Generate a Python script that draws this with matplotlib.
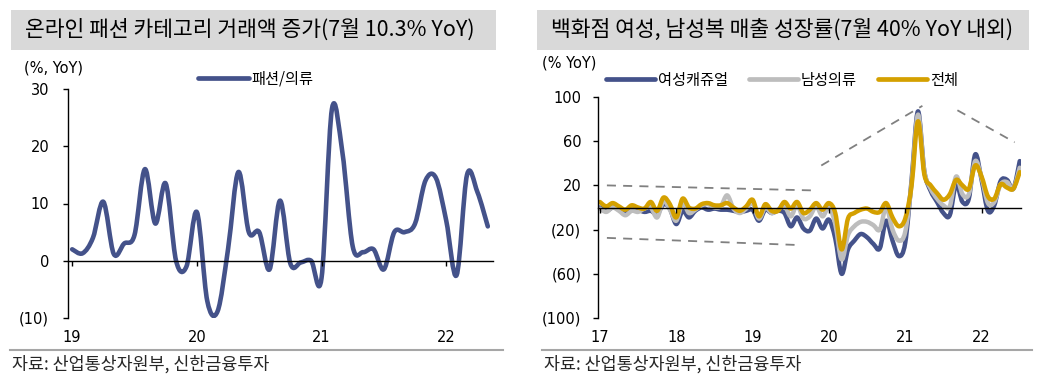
import matplotlib
matplotlib.use('Agg')
import matplotlib.pyplot as plt
import numpy as np
from matplotlib.path import Path
from matplotlib.patches import PathPatch, Rectangle
from matplotlib.lines import Line2D
from matplotlib.ticker import FuncFormatter

plt.rcParams['font.family'] = ['DejaVu Sans', 'Noto Sans CJK KR']
KR = ['Noto Sans CJK KR', 'DejaVu Sans']

# 왼쪽: 온라인 패션/의류 거래액 증가율 (2019.01~, 월별 %YoY)
fashion_yoy = [2, 1.3, 4, 10.3, 1.2, 3, 4.5, 16, 6.5, 13.5,
               0, -1, 8.5, -7, -8.8, 2, 15.5, 5, 5, -1.5,
               10.5, -0.5, -0.3, 0, -3, 26.5, 19, 2.5, 1.5, 2,
               -1.5, 5, 5, 6.5, 14, 14.5, 7, -2.5, 15, 12, 6]
left_years = ['19', '20', '21', '22']

# 오른쪽: 백화점 매출 성장률 (2017.01~2022.07, 월별 %YoY)
women_casual = [0, -3, 0, -1, -3, -2, -2, -4, -3, -6,
                3, -1, -15, -3, -9, -3, 0, -2, -1, -2,
                -2, -3, -4, -3, -2, -12, -2, -5, -3, -5,
                -17, -9, -19, -21, -10, -19, -11, -28, -60, -38,
                -30, -24, -27, -33, -37, -12, -30, -44, -32, 25,
                87, 33, 15, 5, -5, -7, 21, 5, 8, 48,
                25, -3, 2, 24, 25, 17, 42]
men_wear = [-1, -4, 0, -3, -7, -3, -4, -1, 0, -9,
            6, -2, -12, 4, -5, -2, 2, 3, 0, 1,
            11, -1, -5, -1, 4, -10, 0, -5, -2, 2,
            -8, 2, -10, -8, 1, -8, 0, -15, -47, -25,
            -17, -13, -13, -16, -20, 0, -20, -30, -22, 22,
            84, 33, 17, 8, 2, 1, 28, 12, 12, 42,
            27, 4, 5, 21, 23, 17, 36]
total = [5, 1, 4, 1, -2, 2, 0, -1, 5, -3,
         9, 3, -9, 8, 0, -1, 3, 4, 2, 2,
         4, 0, -3, 1, 7, -8, 3, -3, -3, 5,
         -1, 5, -5, -2, 4, -2, 4, -5, -38, -10,
         -5, -2, -1, -4, -4, 4, -9, -17, -10, 20,
         78, 30, 20, 13, 7, 12, 25, 20, 17, 38,
         28, 10, 8, 21, 18, 17, 32]
right_years = ['17', '18', '19', '20', '21', '22']

# 점선 추세선 (월 index, %)
trend_lines = [((1.1, 20), (33.2, 15.5)),
               ((1.1, -27.5), (31.4, -34)),
               ((34.8, 38), (50.7, 92)),
               ((56.2, 88), (65.2, 59))]

NAVY = '#44528A'
GRAY = '#BDBDBD'
GOLD = '#D4A000'


def smooth_path(vals):
    # 엑셀 '부드러운 선' 처럼 곡선으로 연결
    pts = np.column_stack([np.arange(len(vals), dtype=float), np.asarray(vals, dtype=float)])
    ext = np.vstack([pts[0], pts, pts[-1]])
    verts, codes = [pts[0]], [Path.MOVETO]
    for i in range(len(pts) - 1):
        p0, p1, p2, p3 = ext[i], ext[i + 1], ext[i + 2], ext[i + 3]
        verts += [p1 + (p2 - p0) / 6, p2 - (p3 - p1) / 6, p2]
        codes += [Path.CURVE4] * 3
    return Path(verts, codes)


def draw_series(ax, vals, color, lw):
    ax.add_patch(PathPatch(smooth_path(vals), fill=False, ec=color, lw=lw,
                           capstyle='round', joinstyle='round'))


def paren_fmt(v, p):
    return f'({abs(v):.0f})' if v < 0 else f'{v:.0f}'


def setup_axes(ax, xlim, ylim, yticks, years, ypad):
    ax.set_xlim(*xlim)
    ax.set_ylim(*ylim)
    ax.spines['top'].set_visible(False)
    ax.spines['right'].set_visible(False)
    ax.spines['bottom'].set_position(('data', 0))
    ax.spines['bottom'].set_linewidth(1.0)
    ax.spines['left'].set_linewidth(1.0)
    ax.set_yticks(yticks)
    ax.yaxis.set_major_formatter(FuncFormatter(paren_fmt))
    ax.tick_params(axis='y', direction='out', length=3.5, width=1, labelsize=10.5, pad=ypad)
    ticks = np.arange(0, 12 * len(years), 12)
    ax.set_xticks(ticks)
    ax.tick_params(axis='x', direction='out', length=3.5, width=1, labelbottom=False)
    sec = ax.secondary_xaxis(0.0)
    sec.set_xticks(ticks, labels=years)
    sec.tick_params(length=0, pad=9, labelsize=10.5)
    sec.spines['bottom'].set_visible(False)


W, H = 1050, 381
fig = plt.figure(figsize=(W / 100, H / 100), dpi=100)


def fx(px):
    return px / W


def fy(py):
    return 1 - py / H


leg_font = {'family': KR, 'size': 11}

# ---- 왼쪽 차트 ----
axL = fig.add_axes([fx(68), fy(318), fx(493 - 68), (318 - 89) / H])
setup_axes(axL, (-0.4, 40.5), (-10, 30), [-10, 0, 10, 20, 30], left_years, 10)
draw_series(axL, fashion_yoy, NAVY, 3.3)
axL.legend(handles=[Line2D([], [], color=NAVY, lw=3.4, solid_capstyle='round')],
           labels=['패션/의류'], loc='center', bbox_to_anchor=(fx(256), fy(79)),
           bbox_transform=fig.transFigure, frameon=False, handlelength=3.3,
           handletextpad=0.2, prop=leg_font)
fig.text(fx(54), fy(68), '(%, YoY)', ha='center', va='center', fontsize=10.5)

# ---- 오른쪽 차트 ----
axR = fig.add_axes([fx(598), fy(318), fx(1021 - 598), (318 - 97) / H])
setup_axes(axR, (-0.3, 66.2), (-100, 100), [-100, -60, -20, 20, 60, 100], right_years, 8.5)
for (x0, y0), (x1, y1) in trend_lines:
    axR.plot([x0, x1], [y0, y1], color='#808080', lw=1.3, ls=(0, (5, 4)))
draw_series(axR, women_casual, NAVY, 3.2)
draw_series(axR, men_wear, GRAY, 3.2)
draw_series(axR, total, GOLD, 3.2)
handles = [Line2D([], [], color=c, lw=3.4, solid_capstyle='round') for c in (NAVY, GRAY, GOLD)]
axR.legend(handles=handles, labels=['여성캐쥬얼', '남성의류', '전체'], loc='center', ncol=3,
           bbox_to_anchor=(fx(782), fy(80)), bbox_transform=fig.transFigure, frameon=False,
           handlelength=3.2, handletextpad=0.2, columnspacing=1.4, prop=leg_font)
fig.text(fx(569), fy(63), '(% YoY)', ha='center', va='center', fontsize=10.5)

# ---- 제목 박스 ----
titles = [(11, 496, '온라인 패션 카테고리 거래액 증가(7월 10.3% YoY)'),
          (537, 1029, '백화점 여성, 남성복 매출 성장률(7월 40% YoY 내외)')]
for x0, x1, t in titles:
    fig.add_artist(Rectangle((fx(x0), fy(50)), fx(x1 - x0), 40 / H, transform=fig.transFigure,
                             facecolor='#D9D9D9', edgecolor='none'))
    fig.text(fx(x0 + 14), fy(30), t, ha='left', va='center', fontsize=15.5,
             family=KR, weight='medium')

# ---- 출처 ----
for x0, x1 in [(10, 503), (542, 1032)]:
    fig.add_artist(Line2D([fx(x0), fx(x1)], [fy(350), fy(350)], transform=fig.transFigure,
                          color='#A6A6A6', lw=1.5))
    fig.text(fx(x0 + 2), fy(364), '자료: 산업통상자원부, 신한금융투자', ha='left', va='center',
             fontsize=12.5, family=KR, color='#262626')

fig.savefig('out.png', dpi=100)
